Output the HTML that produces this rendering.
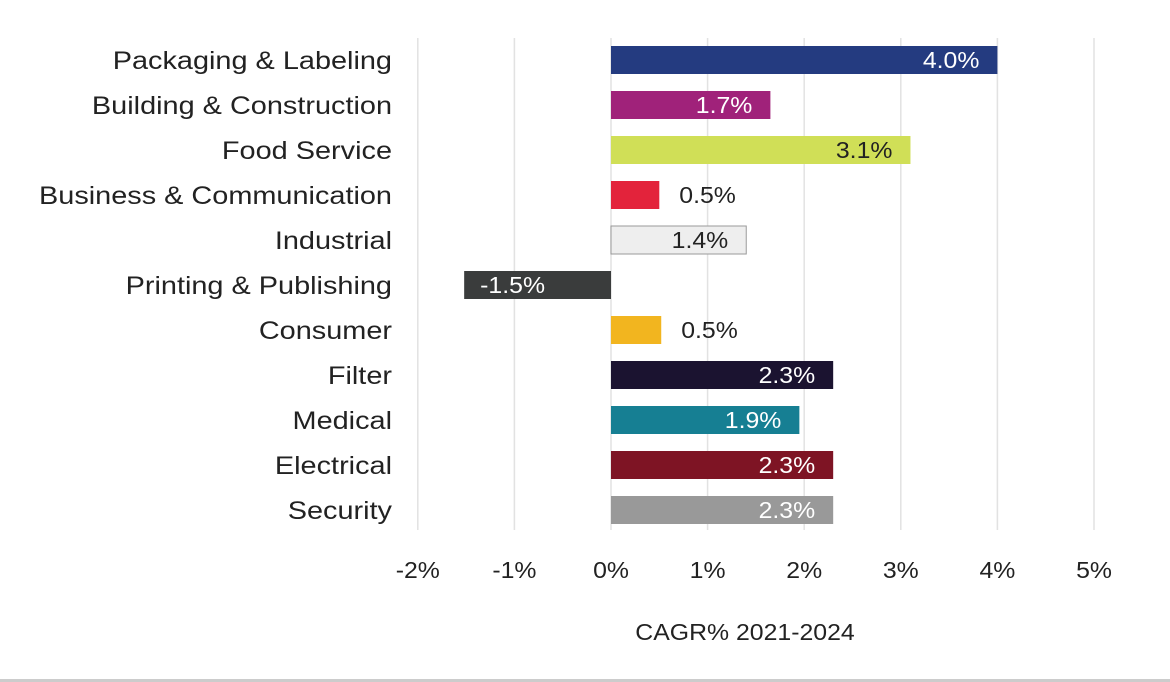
<!DOCTYPE html>
<html><head><meta charset="utf-8"><style>
html,body{margin:0;padding:0;background:#fff;width:1170px;height:682px;overflow:hidden}
svg{display:block;font-family:"Liberation Sans",sans-serif}
</style></head><body>
<svg id="chart" width="1170" height="682"></svg>
<script>
const categories=["Packaging & Labeling","Building & Construction","Food Service","Business & Communication","Industrial","Printing & Publishing","Consumer","Filter","Medical","Electrical","Security"];
const values=[4.0,1.65,3.1,0.5,1.4,-1.52,0.52,2.3,1.95,2.3,2.3];
const valueLabels=["4.0%","1.7%","3.1%","0.5%","1.4%","-1.5%","0.5%","2.3%","1.9%","2.3%","2.3%"];
const colors=["#243b80","#a0227a","#d0df57","#e3233b","#eeeeee","#3a3c3c","#f2b51f","#1b1330","#167f93","#7e1424","#999999"];
const labelColors=["#fff","#fff","#222","#222","#222","#fff","#222","#fff","#fff","#fff","#fff"];
const ticks=[-2,-1,0,1,2,3,4,5];
const tickLabels=["-2%","-1%","0%","1%","2%","3%","4%","5%"];
const NS="http://www.w3.org/2000/svg";
const svg=document.getElementById('chart');
const x0=611,pxPer=96.6;
const xs=v=>x0+v*pxPer;
const ys=i=>46+i*45;
const bh=28;
function mk(t,a){const e=document.createElementNS(NS,t);for(const k in a)e.setAttribute(k,a[k]);svg.appendChild(e);return e;}
function txt(x,y,s,anchor,size,fill,sx){
 const e=mk('text',{x:0,y:0,'text-anchor':anchor,'font-size':size,fill:fill,transform:`translate(${x},${y}) scale(${sx},1)`});
 e.textContent=s;return e;
}
ticks.forEach((t,i)=>{
 const g=mk('line',{x1:xs(t),x2:xs(t),y1:38,y2:530,stroke:'#e2e2e2','stroke-width':1.5});
 
 
 const tl=txt(xs(t),578,tickLabels[i],'middle',23,'#222',1.08);
 
 
});
categories.forEach((c,i)=>{
 const y=ys(i);
 const cl=txt(392,y+bh/2+9,c,'end',25,'#222',1.155);
 
 
 const v=values[i];
 const bx=Math.min(xs(0),xs(v)),bw=Math.abs(xs(v)-xs(0));
 const r=mk('rect',{x:bx,y:y,width:bw,height:bh,fill:colors[i]});
 if(colors[i]==="#eeeeee"){r.setAttribute('stroke','#999');r.setAttribute('stroke-width',1);}
 
 
 let lx,anchor,fill=labelColors[i];
 if(bw<80){lx=xs(v)+20;anchor='start';fill='#222';}
 else if(v<0){lx=xs(v)+16;anchor='start';}
 else{lx=xs(v)-18;anchor='end';}
 const vl=txt(lx,y+bh/2+8,valueLabels[i],anchor,23,fill,1.08);
 
 
});
const at=txt(745,640,"CAGR% 2021-2024",'middle',23,'#222',1.08);


const bl=mk('rect',{x:0,y:679,width:1170,height:3,fill:'#cccccc'});


</script>
</body></html>
